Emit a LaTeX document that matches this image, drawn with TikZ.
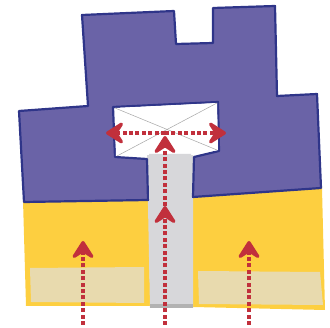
\documentclass[tikz,border=0pt]{standalone}
\usepackage{tikz}
\usepackage{xcolor}
\usetikzlibrary{arrows.meta}
\definecolor{wallblue}{HTML}{6A63A7}
\definecolor{walledge}{HTML}{2F3589}
\definecolor{soilyellow}{HTML}{FDCF40}
\definecolor{soilbeige}{HTML}{E8DAAE}
\definecolor{shaftgray}{HTML}{D7D7DA}
\definecolor{flowred}{HTML}{C1303C}
\tikzset{
  flow/.style={draw=flowred,line width=4pt,dash pattern=on 4pt off 2.4pt,
    -{Stealth[length=22pt,width=28pt,inset=9pt,round]}},
}

\begin{document}
\begin{tikzpicture}[x=1pt,y=-1pt]
\useasboundingbox (0,0) rectangle (330,328);
\fill[soilyellow] (23,200) -- (149,198) -- (150,306) -- (26,306) -- cycle;
\fill[soilyellow] (191,195) -- (322,188) -- (325,310) -- (193,307) -- cycle;
\fill[soilbeige] (30,268) -- (144,267) -- (144,303) -- (31,302) -- cycle;
\fill[soilbeige] (198,271) -- (320,272) -- (323,305) -- (199,304) -- cycle;
\fill[shaftgray] (147,155) -- (193,155) -- (193,308) -- (150,308) -- cycle;
\fill[gray!60] (150,304) -- (193,304) -- (193,308) -- (150,308) -- cycle;
\draw[walledge,fill=wallblue,line width=2.2pt,line join=round]
  (82,15) -- (174,11) -- (176,44) -- (213,43) -- (213,8) -- (275,6) -- (277,96)
  -- (317,94) -- (321,188) -- (193,197) -- (194,157) -- (219,151) -- (218,102)
  -- (113,107) -- (115,157) -- (147,159) -- (148,200) -- (24,202) -- (19,111)
  -- (88,106) -- cycle;
\fill[white] (115,108) -- (217,103) -- (218,150) -- (192,155) -- (147,155) -- (116,156) -- cycle;
\fill[shaftgray] (149,154) -- (191,154) -- (191,196) -- (149,199) -- cycle;
\draw[gray!70,line width=0.5pt] (115,108) -- (217,150);
\draw[gray!70,line width=0.5pt] (217,103) -- (117,156);
\coordinate (leftstart) at (83,325);
\coordinate (lefttip) at (83,241);
\coordinate (midstart) at (165,325);
\coordinate (midtip) at (165,206);
\coordinate (toptip) at (165,136);
\coordinate (centre) at (165,133);
\coordinate (westtip) at (106,133);
\coordinate (easttip) at (226,133);
\coordinate (rightstart) at (249,325);
\coordinate (righttip) at (249,241);
\draw[flow] (leftstart) -- (lefttip);
\draw[flow] (rightstart) -- (righttip);
\draw[flow] (midstart) -- (midtip);
\draw[flow] (midtip) -- (toptip);
\draw[flow] (centre) -- (westtip);
\draw[flow] (centre) -- (easttip);
\end{tikzpicture}
\end{document}
